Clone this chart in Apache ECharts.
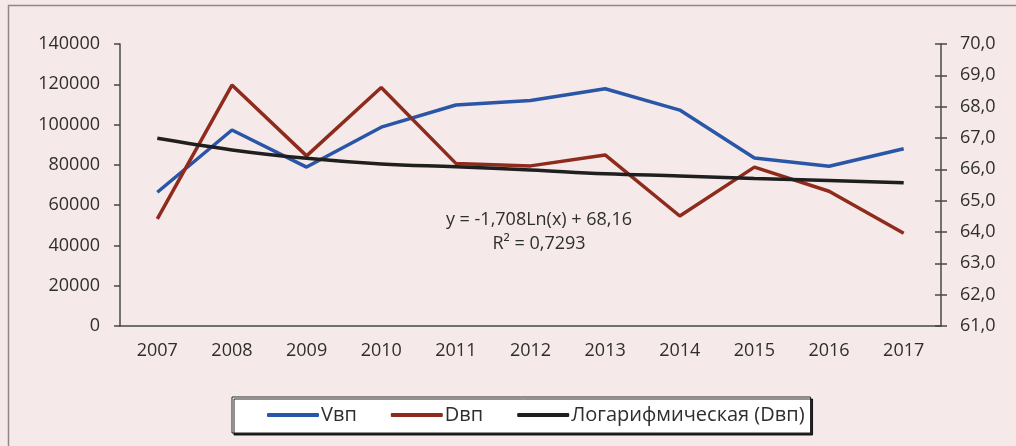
<!DOCTYPE html>
<html>
<head>
<meta charset="utf-8">
<script src="https://cdn.jsdelivr.net/npm/echarts@6/dist/echarts.min.js"></script>
<style>
  html, body { margin: 0; padding: 0; background: #f6e9e9; }
  #chart { width: 1016px; height: 446px; }
</style>
</head>
<body>
<div id="chart"></div>
<script>
// годы
var years = ['2007', '2008', '2009', '2010', '2011', '2012', '2013', '2014', '2015', '2016', '2017'];
// Vвп (левая ось)
var vvp = [66400, 97300, 78900, 98700, 109700, 111900, 117800, 107200, 83400, 79300, 88000];
// Dвп (правая ось)
var dvp = [64.42, 68.69, 66.43, 68.61, 66.19, 66.11, 66.46, 64.51, 66.07, 65.30, 63.96];
// логарифмический тренд по Dвп
var trend = [66.99, 66.62, 66.35, 66.17, 66.08, 65.98, 65.86, 65.79, 65.71, 65.64, 65.57];

var eqText = ['y = -1,708Ln(x) + 68,16', 'R\u00b2 = 0,7293'];

var font = '"Open Sans", "Noto Sans", sans-serif';
var txt = '#2e2e2e';
var axisCol = '#474747';

var myChart = echarts.init(document.getElementById('chart'));

var option = {
    backgroundColor: '#f6e9e9',
    animation: false,
    textStyle: { fontFamily: font },
    grid: { left: 120, right: 75, top: 44, bottom: 120 },
    legend: {
        left: 232,
        top: 397,
        padding: [8, 6, 8, 35],
        itemGap: 34,
        itemWidth: 52,
        itemHeight: 4,
        icon: 'roundRect',
        backgroundColor: '#ffffff',
        borderColor: '#222',
        borderWidth: 1,
        borderRadius: 0,
        shadowColor: 'rgba(0,0,0,0.85)',
        shadowBlur: 0,
        shadowOffsetX: 2,
        shadowOffsetY: 2,
        textStyle: { fontFamily: font, fontSize: 20, color: txt, padding: [0, 0, 0, -3], lineHeight: 19 },
        data: ['Vвп', 'Dвп', 'Логарифмическая (Dвп)']
    },
    xAxis: {
        type: 'category',
        data: years,
        axisLine: { lineStyle: { color: axisCol, width: 1.5 } },
        axisTick: { length: 6, lineStyle: { color: axisCol, width: 1.5 } },
        axisLabel: { fontSize: 18, color: txt, margin: 16 }
    },
    yAxis: [
        {
            type: 'value',
            min: 0, max: 140000, interval: 20000,
            axisLine: { show: true, lineStyle: { color: axisCol, width: 1.5 } },
            axisTick: { show: true, length: 6, lineStyle: { color: axisCol, width: 1.5 } },
            axisLabel: {
                fontSize: 18, color: txt, margin: 20,
                formatter: function (v) { return String(v); }
            },
            splitLine: { show: false }
        },
        {
            type: 'value',
            position: 'right',
            min: 61, max: 70, interval: 1,
            axisLine: { show: true, lineStyle: { color: axisCol, width: 1.5 } },
            axisTick: { show: true, length: 6, lineStyle: { color: axisCol, width: 1.5 } },
            axisLabel: {
                fontSize: 18, color: txt, margin: 19,
                formatter: function (v) { return v.toFixed(1).replace('.', ','); }
            },
            splitLine: { show: false }
        },
        {
            // внутренние засечки правой оси
            type: 'value',
            position: 'right',
            min: 61, max: 70, interval: 1,
            axisLine: { show: false },
            axisTick: { show: true, inside: true, length: 6, lineStyle: { color: axisCol, width: 1.5 } },
            axisLabel: { show: false },
            splitLine: { show: false }
        }
    ],
    series: [
        {
            name: 'Vвп', type: 'line', yAxisIndex: 0, data: vvp,
            symbol: 'none', color: '#2a56a8',
            lineStyle: { width: 3.5, color: '#2a56a8' }
        },
        {
            name: 'Dвп', type: 'line', yAxisIndex: 1, data: dvp,
            symbol: 'none', color: '#8e2b1c',
            lineStyle: { width: 3.5, color: '#8e2b1c' }
        },
        {
            name: 'Логарифмическая (Dвп)', type: 'line', yAxisIndex: 1, data: trend,
            symbol: 'none', smooth: 0.4, color: '#1f1f1f',
            lineStyle: { width: 3.5, color: '#1f1f1f' }
        }
    ],
    graphic: [
        {
            type: 'rect', silent: true,
            shape: { x: 8.5, y: 5.5, width: 1100, height: 500 },
            style: { fill: 'none', stroke: '#8f8888', lineWidth: 1.5 }
        },
        {
            type: 'text', silent: true,
            x: 539, y: 220,
            style: { text: eqText[0], font: '18px ' + font, fill: txt, textAlign: 'center', textVerticalAlign: 'middle' }
        },
        {
            type: 'text', silent: true,
            x: 539, y: 244,
            style: { text: eqText[1], font: '18px ' + font, fill: txt, textAlign: 'center', textVerticalAlign: 'middle' }
        }
    ]
};

myChart.setOption(option);
</script>
</body>
</html>
